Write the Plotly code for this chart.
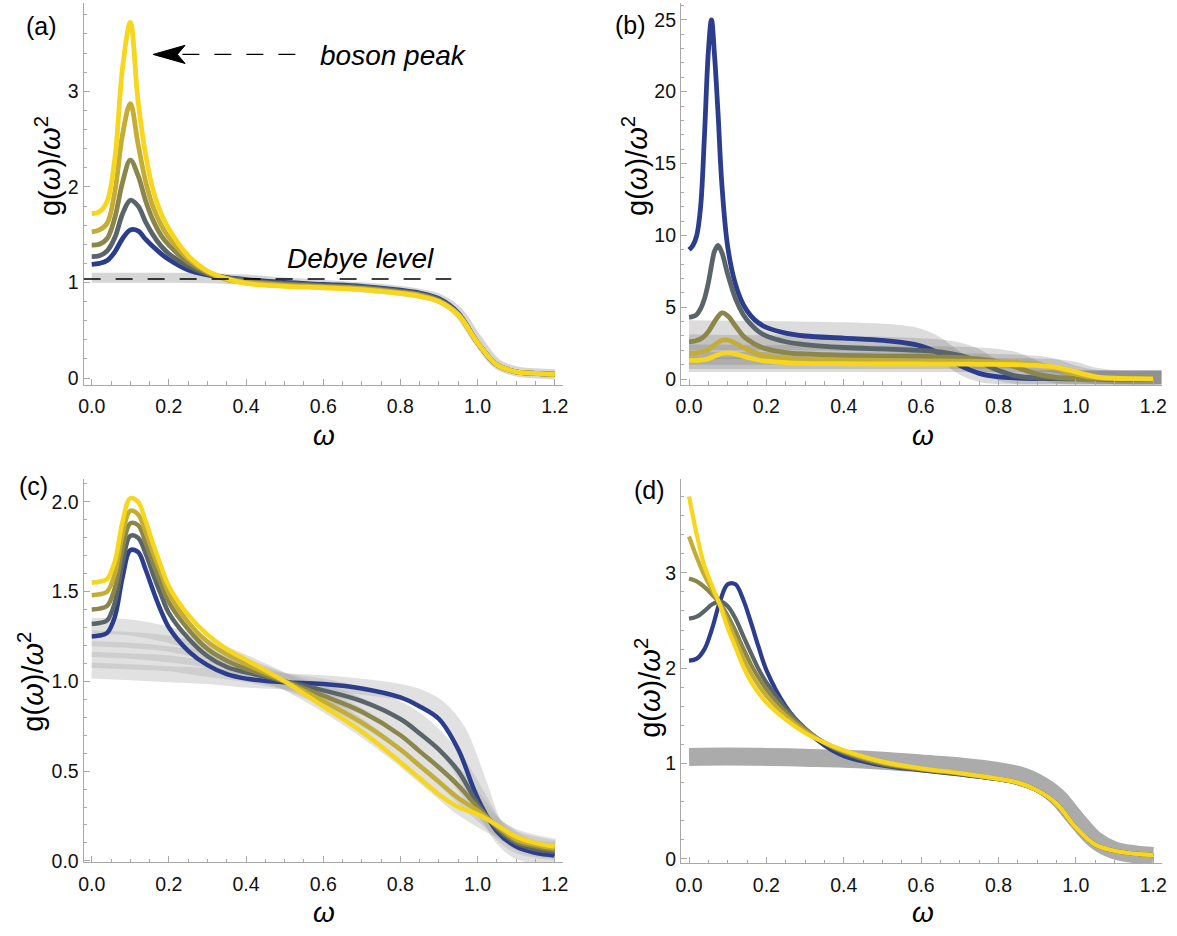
import plotly.graph_objects as go

# ---------------- data ----------------
X = [0, 0.02, 0.04, 0.06, 0.08, 0.1, 0.12, 0.14, 0.16, 0.18, 0.2, 0.25, 0.3, 0.35,
     0.4, 0.5, 0.6, 0.7, 0.8, 0.85, 0.9, 0.95, 1.0, 1.05, 1.1, 1.15, 1.2]
GX = [0, 0.1, 0.2, 0.3, 0.4, 0.5, 0.6, 0.7, 0.8, 0.85, 0.9, 0.95, 1.0, 1.05, 1.1, 1.15, 1.2]

# panel (a)
A_BLUE = [1.19, 1.20, 1.23, 1.32, 1.46, 1.55, 1.54, 1.45, 1.37, 1.30, 1.24, 1.13, 1.08, 1.05,
          1.03, 1.00, 0.98, 0.96, 0.92, 0.89, 0.83, 0.68, 0.37, 0.14, 0.065, 0.05, 0.04]
A_GRAY = [1.27, 1.28, 1.33, 1.47, 1.72, 1.86, 1.80, 1.63, 1.49, 1.38, 1.30, 1.17, 1.09, 1.05,
          1.02, 0.99, 0.97, 0.95, 0.91, 0.88, 0.82, 0.67, 0.37, 0.14, 0.065, 0.05, 0.04]
A_OLIVE = [1.39, 1.40, 1.46, 1.68, 2.05, 2.28, 2.12, 1.85, 1.64, 1.49, 1.39, 1.21, 1.10, 1.04,
           1.01, 0.98, 0.96, 0.94, 0.90, 0.87, 0.81, 0.67, 0.37, 0.14, 0.065, 0.05, 0.04]
A_DKY = [1.53, 1.55, 1.62, 1.95, 2.55, 2.87, 2.45, 2.05, 1.78, 1.60, 1.47, 1.25, 1.11, 1.03,
         1.00, 0.97, 0.955, 0.935, 0.895, 0.865, 0.805, 0.665, 0.37, 0.14, 0.065, 0.05, 0.04]
A_YEL = [1.72, 1.74, 1.85, 2.30, 3.25, 3.72, 2.90, 2.33, 1.95, 1.72, 1.56, 1.28, 1.12, 1.04,
         0.99, 0.96, 0.945, 0.925, 0.885, 0.855, 0.80, 0.66, 0.37, 0.14, 0.065, 0.05, 0.04]
A_BAND = [1.05, 1.05, 1.05, 1.045, 1.03, 1.00, 0.975, 0.95, 0.91, 0.88, 0.83, 0.69, 0.40,
          0.15, 0.07, 0.05, 0.04]
DEBYE_LEVEL = 1.036

# panel (b)
XB = [0, 0.01, 0.02, 0.03, 0.04, 0.05, 0.058, 0.066, 0.075, 0.085, 0.1, 0.12, 0.14, 0.16,
      0.18, 0.2, 0.25, 0.3, 0.4, 0.5, 0.55, 0.6, 0.65, 0.7, 0.75, 0.8, 0.85, 0.9, 0.95, 1.0,
      1.05, 1.1, 1.15, 1.2]
B_BLUE = [9.0, 9.3, 10.0, 12.0, 17.0, 22.8, 25.0, 22.5, 18.5, 13.5, 9.2, 6.6, 5.2, 4.4, 3.9,
          3.6, 3.2, 3.0, 2.85, 2.7, 2.55, 2.3, 1.75, 0.95, 0.4, 0.15, 0.07, 0.04, 0.03, 0.02,
          0.02, 0.02, 0.02, 0.02]
B_GRAY = [4.3, 4.35, 4.5, 4.9, 5.6, 6.7, 7.9, 8.9, 9.3, 8.8, 7.3, 5.6, 4.5, 3.8, 3.3, 3.0,
          2.6, 2.4, 2.2, 2.1, 2.05, 2.0, 1.9, 1.65, 1.2, 0.6, 0.2, 0.07, 0.04, 0.03, 0.03,
          0.02, 0.02, 0.02]
B_OLIVE = [2.6, 2.62, 2.68, 2.8, 3.0, 3.3, 3.65, 4.0, 4.35, 4.6, 4.4, 3.7, 3.0, 2.6, 2.3,
           2.1, 1.85, 1.75, 1.65, 1.6, 1.6, 1.58, 1.55, 1.5, 1.4, 1.2, 0.8, 0.35, 0.12, 0.05,
           0.03, 0.02, 0.02, 0.02]
B_DKY = [1.8, 1.81, 1.83, 1.87, 1.95, 2.05, 2.2, 2.38, 2.55, 2.7, 2.72, 2.5, 2.2, 1.95, 1.75,
         1.6, 1.45, 1.38, 1.32, 1.3, 1.28, 1.27, 1.26, 1.25, 1.23, 1.2, 1.15, 1.02, 0.75, 0.35,
         0.1, 0.04, 0.03, 0.02]
B_YEL = [1.3, 1.3, 1.31, 1.33, 1.36, 1.42, 1.5, 1.6, 1.7, 1.78, 1.82, 1.76, 1.6, 1.45, 1.33,
         1.25, 1.15, 1.1, 1.07, 1.05, 1.05, 1.05, 1.04, 1.04, 1.03, 1.02, 1.0, 0.95, 0.82, 0.5,
         0.18, 0.06, 0.03, 0.02]
GB = [0, 0.2, 0.4, 0.5, 0.55, 0.6, 0.65, 0.7, 0.75, 0.8, 0.85, 0.9, 0.95, 1.0, 1.05, 1.1, 1.222]
B1_HI = [4.1, 4.05, 3.95, 3.85, 3.75, 3.5, 2.9, 1.9, 1.0, 0.7, 0.6, 0.6, 0.6, 0.6, 0.6, 0.6, 0.6]
B1_LO = [2.0, 2.0, 1.95, 1.9, 1.85, 1.7, 1.2, 0.3, -0.2, -0.35, -0.4, -0.4, -0.4, -0.4, -0.4, -0.4, -0.4]
B2_HI = [3.1, 3.05, 3.0, 2.95, 2.9, 2.85, 2.75, 2.55, 2.1, 1.3, 0.8, 0.62, 0.6, 0.6, 0.6, 0.6, 0.6]
B2_LO = [1.4, 1.4, 1.38, 1.35, 1.33, 1.3, 1.25, 1.1, 0.6, -0.1, -0.35, -0.4, -0.4, -0.4, -0.4, -0.4, -0.4]
B3_HI = [2.4, 2.38, 2.35, 2.33, 2.32, 2.3, 2.28, 2.25, 2.2, 2.1, 1.85, 1.3, 0.8, 0.62, 0.6, 0.6, 0.6]
B3_LO = [1.0, 1.0, 0.98, 0.97, 0.96, 0.95, 0.94, 0.92, 0.9, 0.85, 0.6, 0.0, -0.3, -0.4, -0.4, -0.4, -0.4]
B4_HI = [1.9, 1.88, 1.86, 1.85, 1.84, 1.83, 1.82, 1.8, 1.78, 1.75, 1.7, 1.62, 1.4, 0.95, 0.65, 0.6, 0.6]
B4_LO = [0.7, 0.7, 0.7, 0.7, 0.7, 0.7, 0.7, 0.7, 0.7, 0.68, 0.65, 0.6, 0.4, -0.1, -0.35, -0.4, -0.4]
B5_HI = [1.5, 1.5, 1.5, 1.5, 1.5, 1.5, 1.5, 1.49, 1.48, 1.47, 1.45, 1.43, 1.38, 1.2, 0.8, 0.63, 0.6]
B5_LO = [0.5, 0.5, 0.5, 0.5, 0.5, 0.5, 0.5, 0.5, 0.5, 0.5, 0.5, 0.5, 0.48, 0.35, -0.1, -0.35, -0.4]

# panel (c)
C_BLUE = [1.25, 1.255, 1.27, 1.36, 1.58, 1.73, 1.72, 1.62, 1.50, 1.39, 1.30, 1.17, 1.09, 1.04,
          1.015, 0.995, 0.985, 0.96, 0.91, 0.86, 0.79, 0.62, 0.35, 0.165, 0.08, 0.045, 0.03]
C_GRAY = [1.32, 1.325, 1.34, 1.44, 1.66, 1.81, 1.80, 1.71, 1.59, 1.48, 1.38, 1.24, 1.14, 1.08,
          1.05, 1.0, 0.95, 0.89, 0.79, 0.71, 0.62, 0.50, 0.32, 0.18, 0.10, 0.065, 0.05]
C_OLIVE = [1.40, 1.405, 1.42, 1.52, 1.74, 1.88, 1.87, 1.77, 1.65, 1.54, 1.44, 1.29, 1.18, 1.115,
           1.07, 1.0, 0.92, 0.83, 0.70, 0.61, 0.52, 0.42, 0.30, 0.19, 0.11, 0.08, 0.06]
C_DKY = [1.48, 1.485, 1.50, 1.60, 1.82, 1.95, 1.93, 1.83, 1.71, 1.60, 1.49, 1.33, 1.22, 1.15,
         1.095, 1.0, 0.89, 0.77, 0.62, 0.53, 0.44, 0.35, 0.28, 0.195, 0.12, 0.09, 0.07]
C_YEL = [1.55, 1.555, 1.57, 1.67, 1.89, 2.02, 2.00, 1.89, 1.76, 1.64, 1.53, 1.37, 1.26, 1.18,
         1.12, 1.0, 0.86, 0.72, 0.55, 0.46, 0.37, 0.30, 0.26, 0.20, 0.135, 0.10, 0.08]
CG_YEL = [1.31, 1.30, 1.26, 1.19, 1.10, 1.00, 0.88, 0.74, 0.58, 0.49, 0.40, 0.31, 0.24, 0.18, 0.13, 0.10, 0.08]
CG_DKY = [1.24, 1.23, 1.21, 1.16, 1.08, 1.00, 0.91, 0.80, 0.66, 0.57, 0.48, 0.38, 0.28, 0.19, 0.12, 0.09, 0.07]
CG_OLIVE = [1.18, 1.17, 1.15, 1.12, 1.06, 1.00, 0.94, 0.86, 0.75, 0.67, 0.57, 0.46, 0.32, 0.19, 0.11, 0.07, 0.06]
CG_GRAY = [1.12, 1.11, 1.10, 1.07, 1.04, 1.00, 0.97, 0.92, 0.84, 0.77, 0.67, 0.54, 0.36, 0.18, 0.09, 0.06, 0.05]
CG_BLUE = [1.06, 1.05, 1.04, 1.03, 1.01, 1.00, 0.99, 0.97, 0.94, 0.91, 0.85, 0.72, 0.45, 0.17, 0.06, 0.03, 0.02]

# panel (d)
D_BLUE = [2.08, 2.10, 2.20, 2.42, 2.70, 2.88, 2.88, 2.72, 2.48, 2.22, 1.98, 1.60, 1.36, 1.19,
          1.08, 0.98, 0.93, 0.885, 0.835, 0.795, 0.72, 0.58, 0.33, 0.15, 0.085, 0.055, 0.04]
D_GRAY = [2.52, 2.54, 2.60, 2.67, 2.70, 2.65, 2.52, 2.34, 2.16, 1.99, 1.85, 1.58, 1.37, 1.21,
          1.11, 0.99, 0.935, 0.89, 0.835, 0.80, 0.72, 0.58, 0.33, 0.15, 0.085, 0.055, 0.04]
D_OLIVE = [2.94, 2.91, 2.85, 2.77, 2.68, 2.55, 2.39, 2.21, 2.04, 1.90, 1.78, 1.54, 1.36, 1.22,
           1.12, 1.00, 0.94, 0.895, 0.84, 0.80, 0.72, 0.58, 0.33, 0.15, 0.085, 0.055, 0.04]
D_DKY = [3.38, 3.16, 2.97, 2.82, 2.67, 2.49, 2.30, 2.11, 1.95, 1.82, 1.71, 1.50, 1.34, 1.22,
         1.13, 1.01, 0.945, 0.90, 0.84, 0.80, 0.72, 0.58, 0.33, 0.15, 0.085, 0.055, 0.04]
D_YEL = [3.80, 3.40, 3.07, 2.86, 2.66, 2.42, 2.22, 2.02, 1.86, 1.74, 1.64, 1.46, 1.32, 1.22,
         1.14, 1.02, 0.95, 0.90, 0.84, 0.80, 0.72, 0.58, 0.33, 0.15, 0.085, 0.055, 0.04]
D_BAND = [1.07, 1.075, 1.07, 1.06, 1.05, 1.03, 1.0, 0.97, 0.92, 0.88, 0.80, 0.66, 0.42, 0.20, 0.09, 0.05, 0.03]

X_TICKS = [0, 0.2, 0.4, 0.6, 0.8, 1.0, 1.2]

# ---------------- styling ----------------
COLORS = ['#2B3D8C', '#5A6569', '#8B8649', '#C3AD35', '#F7D61E']
AXC = '#A8A8A8'
FONT = 'Liberation Sans, Arial, sans-serif'
W, H = 1177, 936

fig = go.Figure()


def line(xs, ys, color, width, ax):
    fig.add_trace(go.Scatter(x=xs, y=ys, mode='lines', xaxis='x' + ax, yaxis='y' + ax,
                             line=dict(color=color, width=width, shape='spline'),
                             hoverinfo='skip', showlegend=False))


# (a)
line(GX, A_BAND, '#D6D6D6', 10, '')
for ys, c in zip([A_BLUE, A_GRAY, A_OLIVE, A_DKY, A_YEL], COLORS):
    line(X, ys, c, 4.8, '')

# (b) bands
for lo, hi in [(B1_LO, B1_HI), (B2_LO, B2_HI), (B3_LO, B3_HI), (B4_LO, B4_HI), (B5_LO, B5_HI)]:
    fig.add_trace(go.Scatter(x=GB, y=lo, mode='lines', xaxis='x2', yaxis='y2',
                             line=dict(width=0, shape='spline', color='rgba(0,0,0,0)'),
                             hoverinfo='skip', showlegend=False))
    fig.add_trace(go.Scatter(x=GB, y=hi, mode='lines', xaxis='x2', yaxis='y2', fill='tonexty',
                             fillcolor='rgba(110,110,110,0.24)',
                             line=dict(width=0, shape='spline', color='rgba(0,0,0,0)'),
                             hoverinfo='skip', showlegend=False))
for ys, c in zip([B_BLUE, B_GRAY, B_OLIVE, B_DKY, B_YEL], COLORS):
    line(XB, ys, c, 4.8, '2')

# (c)
for ys in [CG_BLUE, CG_GRAY, CG_OLIVE, CG_DKY, CG_YEL]:
    line(GX, ys, 'rgba(175,175,175,0.38)', 16, '3')
for ys, c in zip([C_BLUE, C_GRAY, C_OLIVE, C_DKY, C_YEL], COLORS):
    line(X, ys, c, 4.5, '3')

# (d)
line(GX, D_BAND, '#ABABAB', 18, '4')
for ys, c in zip([D_BLUE, D_GRAY, D_OLIVE, D_DKY, D_YEL], COLORS):
    line(X, ys, c, 4.2, '4')


def xaxis(dom, anchor):
    return dict(domain=dom, anchor=anchor, range=[-0.021, 1.222], showgrid=False, zeroline=False,
                showline=True, linecolor=AXC, linewidth=1, ticks='inside', ticklen=6,
                tickcolor=AXC, tickwidth=1, tickvals=X_TICKS, tickformat='.1f',
                ticklabelstandoff=4,
                tickfont=dict(family=FONT, size=19.5, color='#111'),
                minor=dict(dtick=0.05, tick0=0, ticks='inside', ticklen=3.5, tickcolor=AXC),
                fixedrange=True)


def yaxis(dom, anchor, rng, dtick, mdtick, fmt):
    return dict(domain=dom, anchor=anchor, range=rng, showgrid=False, zeroline=False,
                showline=True, linecolor=AXC, linewidth=1, ticks='inside', ticklen=6,
                tickcolor=AXC, tickwidth=1, dtick=dtick, tick0=0, tickformat=fmt,
                tickfont=dict(family=FONT, size=19.5, color='#111'),
                minor=dict(dtick=mdtick, tick0=0, ticks='inside', ticklen=3.5, tickcolor=AXC),
                fixedrange=True)


XL = [79.3 / W, 563 / W]
XR = [681.7 / W, 1166.6 / W]
YT = [1 - 388.3 / H, 1 - 3.3 / H]
YB_C = [1 - 870.7 / H, 1 - 484 / H]
YB_D = [1 - 871.7 / H, 1 - 484 / H]

fig.update_layout(
    width=W, height=H, margin=dict(l=0, r=0, t=0, b=0),
    paper_bgcolor='white', plot_bgcolor='white', showlegend=False,
    xaxis=xaxis(XL, 'y'), yaxis=yaxis(YT, 'x', [-0.068, 3.921], 1, 0.2, 'd'),
    xaxis2=xaxis(XR, 'y2'), yaxis2=yaxis(YT, 'x2', [-0.38, 26.15], 5, 1, 'd'),
    xaxis3=xaxis(XL, 'y3'), yaxis3=yaxis(YB_C, 'x3', [-0.008, 2.125], 0.5, 0.1, '.1f'),
    xaxis4=xaxis(XR, 'y4'), yaxis4=yaxis(YB_D, 'x4', [-0.046, 3.98], 1, 0.2, 'd'),
)

ann = []


def pa(text, px, py, size, angle=0):
    ann.append(dict(text=text, x=px / W, y=1 - py / H, xref='paper', yref='paper',
                    showarrow=False, xanchor='center', yanchor='middle', textangle=angle,
                    font=dict(family=FONT, size=size, color='black')))


pa('(a)', 37, 26.5, 25)
pa('(b)', 631, 25, 25)
pa('(c)', 29, 491, 25)
pa('(d)', 650.5, 495, 25)

YT_TXT = 'g(<i>ω</i>)/<i>ω</i><sup>2</sup>'
pa(YT_TXT, 44, 168, 29, -90)
pa(YT_TXT, 636, 168, 29, -90)
pa(YT_TXT, 26.5, 688, 29, -90)
pa(YT_TXT, 649, 694, 29, -90)
pa('<i>ω</i>', 321.7, 440, 28)
pa('<i>ω</i>', 926, 440, 28)
pa('<i>ω</i>', 321.7, 921.7, 28)
pa('<i>ω</i>', 926, 921.7, 28)

ann.append(dict(text='<i>boson peak</i>', x=0.783, y=3.37, xref='x', yref='y', showarrow=False,
                xanchor='center', yanchor='middle', font=dict(family=FONT, size=28, color='black')))
ann.append(dict(text='<i>Debye level</i>', x=0.697, y=1.25, xref='x', yref='y', showarrow=False,
                xanchor='center', yanchor='middle', font=dict(family=FONT, size=28, color='black')))
fig.update_layout(annotations=ann)

# Debye dashed line, arrow shaft and head
fig.add_shape(type='line', xref='x', yref='y', x0=-0.021, x1=0.932, y0=DEBYE_LEVEL, y1=DEBYE_LEVEL,
              line=dict(color='black', width=1.4, dash='17px,15px'))
fig.add_shape(type='line', xref='x', yref='y', x0=0.235, x1=0.541, y0=3.386, y1=3.386,
              line=dict(color='black', width=1.4, dash='17px,15px'))
fig.add_shape(type='path', xref='x', yref='y',
              path='M 0.159 3.386 L 0.242 3.481 L 0.222 3.386 L 0.242 3.291 Z',
              fillcolor='black', line=dict(color='black', width=1))

fig.write_html('out.html', config={'displayModeBar': False},
               post_script="document.body.style.margin='0';document.body.style.overflow='hidden';")
